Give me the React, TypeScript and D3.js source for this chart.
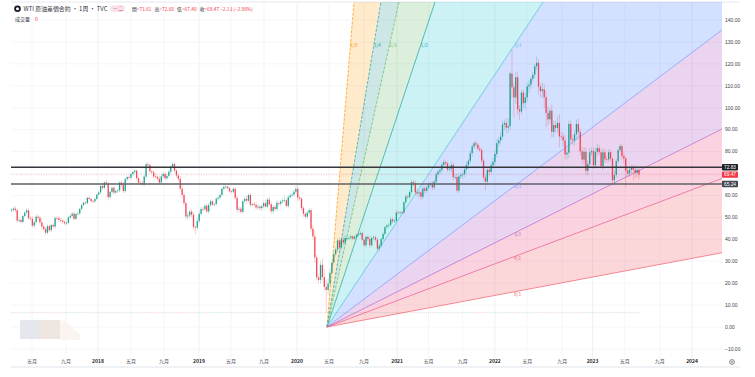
import React from "react";
import * as d3 from "d3";

const closes = [
  53.4,54.0,53.3,48.5,48.8,47.9,50.6,52.2,53.2,49.6,49.3,46.2,47.8,50.3,49.8,47.7,45.8,44.7,43.0,46.0,44.2,46.5,45.8,49.7,49.6,48.8,48.5,47.9,47.3,47.5,49.9,50.7,51.7,49.3,51.5,51.8,53.9,55.6,56.7,56.5,58.9,58.4,57.4,57.3,58.4,60.4,
  61.4,64.3,63.4,65.9,65.4,59.2,61.6,63.5,61.3,62.0,62.3,65.9,64.9,62.0,67.4,68.4,68.1,69.7,70.7,71.3,67.9,65.8,65.7,65.1,68.6,74.2,73.8,71.0,70.5,68.7,68.5,67.6,65.9,68.7,69.8,67.8,68.9,70.8,73.2,74.3,71.3,69.1,67.6,63.1,60.2,56.5,50.4,50.9,52.6,51.2,45.6,45.3,
  48.3,51.6,53.8,53.7,55.3,52.7,55.6,57.3,55.8,56.1,58.5,59.0,60.2,63.1,63.9,64.0,63.3,61.9,61.7,63.0,58.9,53.5,53.9,52.5,57.4,58.4,57.6,60.2,55.7,56.1,55.7,54.5,54.9,54.2,55.1,56.5,54.9,58.1,56.0,52.8,54.7,53.8,56.6,56.2,57.2,57.7,57.8,55.2,59.2,60.0,60.4,61.7,
  63.0,59.0,58.5,54.2,51.6,50.3,52.1,53.3,44.8,41.3,31.7,22.6,21.5,28.3,22.8,18.3,16.9,19.8,24.7,29.4,33.2,35.3,39.5,36.3,39.8,38.5,40.6,40.6,40.6,41.3,40.3,41.2,42.0,42.3,42.9,39.8,37.3,41.1,40.2,37.3,40.6,40.9,39.8,35.7,37.1,40.1,42.4,45.5,46.3,46.6,49.1,48.2,
  48.4,52.2,52.0,52.3,52.2,56.9,59.5,59.2,61.5,66.1,65.6,61.4,60.9,61.4,59.4,63.2,62.1,63.6,64.9,65.4,63.6,66.3,69.6,70.9,71.6,74.0,75.2,74.6,71.8,72.1,73.9,68.3,68.4,62.2,68.7,69.3,69.7,71.9,73.9,75.8,79.3,82.3,83.8,83.2,81.3,80.7,75.9,68.2,66.3,71.7,70.7,73.8,
  75.3,78.9,83.8,85.1,86.8,92.3,93.1,90.9,91.6,115.6,109.3,104.7,113.9,99.3,98.3,106.9,102.1,104.7,109.8,110.5,113.2,115.1,118.9,120.5,109.6,107.6,108.4,104.8,97.6,94.7,98.6,89.0,92.1,90.8,93.1,86.9,86.8,85.1,78.7,79.5,92.6,85.6,85.1,87.9,92.6,89.0,80.1,76.3,79.9,71.2,74.3,79.6,
  80.3,73.8,79.9,81.6,79.7,73.4,79.7,76.5,76.4,79.7,76.7,66.9,69.3,75.6,80.7,82.5,77.9,76.8,71.3,70.0,71.7,72.7,71.7,70.3,71.6,69.47,
];

const upWick = [
  .8,.9,1.1,.7,1,.8,.6,.5,.9,.8,
  .9,1.2,.9,1,.9,.9,1.7,.9,.8,.7,
  .9,.6,1,.7,.8,1,1,.6,.9,1,
  .8,.7,.8,.7,.6,.6,.5,.9,.7,.6,
  .5,.5,.8,.5,.6,.4,.6,.5,1,.6,
  1.3,.8,.5,.6,.8,.8,.7,.4,.8,1.2,
  .6,.6,.7,.6,.9,.6,.5,.8,.8,1,
  1,1,.8,.7,.5,.9,1.2,.7,1.3,1.1,
  .8,.8,.6,.9,.6,1,.7,.8,.6,1.2,
  1.6,1.2,.8,1.6,1,1.2,1.2,1,1.4,1.3,
  1,.9,.9,1,1,.8,.7,.6,.8,.8,
  .7,.6,.9,.8,.5,.5,.6,.7,.9,1,
  1,1,.8,1.1,1.4,.8,1,.7,.9,1.5,
  1.3,.6,.8,1,1.2,.8,1.2,.9,1,.9,
  1.3,1,.8,1,2.1,.9,1,1,.6,.9,
  1.2,1.6,.9,.8,.9,.8,1,1,.9,1.5,
  2.5,1.3,1.5,2,3,3.5,3,2.5,2,1,
  1,1,1,.9,1,1.4,1.1,.8,.7,.9,
  .6,.7,.6,.5,.7,.6,.5,.6,.7,1.2,
  .8,.9,.8,1,.9,.8,.9,.6,.7,1,
  .9,1,.9,1.1,.8,.6,.8,.6,1,.9,
  1,1.1,1,1.3,1.9,.9,1.2,1,1.1,.8,
  1,.9,1.2,.8,1,.9,1,1.1,1.1,1,
  1,.9,1.1,1.1,1.3,1.5,1.2,.9,1.1,1.2,
  1.4,.9,1,1,1,1.2,1,1.4,.9,1.1,
  1.2,1.1,1.3,1.4,1.8,1.9,1.7,1.5,2.1,1.7,
  1.5,2,3.7,.8,11,2,2.5,2.5,1.7,1,
  1.4,2,1.5,2,1,1.2,1,3,1.8,1.5,
  3,2.5,3,3,1.5,3,2,2,3,4,
  2,2,2.5,2,1.5,1.5,2,1.5,2,2.5,
  1.5,2,2,2,1.5,2,1.5,1.5,2,2,
  1.5,1.5,1.8,1.5,1.5,1.4,1.4,1,1.8,1,
  1,1.2,1,1.5,1,1.2,1.5,1.2,1.4,1.5,
  2,1.07,
];

const downWick = [
  .7,.8,1,.9,.8,.7,.6,.5,.7,.8,
  .8,1,1.2,.9,1,.8,1.6,.9,1,.8,
  .8,.9,.6,1,.8,.9,.7,.8,.7,1,
  .8,.6,.8,.7,.6,.7,.8,.7,.6,.6,
  .7,.6,.8,.8,.7,.5,.5,.7,.9,.7,
  .9,1.5,.7,.8,1,.7,.9,.8,1.2,.9,
  1,.8,.9,.9,.7,.8,1.2,.9,1,.8,
  1,1.1,.8,.9,.8,1,.9,.8,1.2,.9,
  .9,.8,1,.8,1.1,.7,.9,1,1.2,.9,
  1.3,1.1,1.3,1.5,1.2,1.1,1.4,2.9,1.1,1,
  .9,.8,.9,.7,1,.8,.7,.7,.8,.7,
  .8,.7,.6,.9,.7,.6,.7,.6,.7,1.2,
  1.2,.9,.8,.9,1.3,.9,1,.7,.8,1,
  1.1,.9,1.3,.9,.8,.8,.7,1.2,1,.9,
  .8,.9,1,1.1,1,.8,1.2,.8,.7,.8,
  1,1.5,.8,1,1.3,.9,1,1,1.3,1.5,
  2.5,1.5,1.5,1.8,1.5,1.8,10.4,2,1.2,1,
  1,1,1.1,1.5,1,1.1,1,.9,.7,1,
  .7,.8,.7,.9,.6,.5,.7,.9,1.2,1.2,
  .7,1,1,.9,1.3,1,.9,.8,1.1,.9,
  .8,1,.8,.9,.9,1,.7,1,1,.9,
  1,1.2,1.2,1.3,1.4,1.9,1.8,1,1.3,1,
  1.1,1,.9,1.2,1,1.3,1,1.1,1.2,1,
  1.1,1,1.5,1.3,1.2,.9,1.2,1.1,1.5,1.3,
  1.4,1.8,1.2,1.6,1.1,1.2,.9,1,1.1,1.5,
  3.9,1.4,2,1.1,1.5,1.3,1.5,1.8,1.7,1.5,
  2.5,2.5,2.4,1.8,5,9,3,2.5,4,1.5,
  2,3,2,3,2,1.5,1.5,1.5,3.5,3,
  3.5,5,6.5,3,2,2.5,2.5,2.5,2,5,
  1.5,3,2.5,2.3,2.5,2,2,2.5,2,2.5,
  2,2,2.5,1.7,2.5,1.8,1.5,1.7,1.4,1.8,
  1.5,1,1.7,1.3,1.5,1.2,1.4,1.5,1.3,1.2,
  .9,1,1.5,2,7.7,1.5,1.6,1.6,4.7,2.5,
  2,2.07,
];

const priceTicks = [140,130,120,110,100,90,80,70,60,50,40,30,20,10,0,-10];
const hiddenPriceLabels = [70];
const timeTickLabels = ["五月","九月","2018","五月","九月","2019","五月","九月","2020","五月","九月","2021","五月","九月","2022","五月","九月","2023","五月","九月","2024"];
const timeTickWeeks = [10.8,28.7,45.6,63,80.4,98.9,115.8,133.2,150.6,167.5,186,203.4,220,238,255,272,290.5,306.5,323.5,342,359];
const strongTicks = ["2018","2019","2020","2021","2022","2023","2024"];

const fanRatios = [8,4,3,2,1,1/2,1/3,1/4,1/8];
const fanNames = ["1/8","1/4","1/3","1/2","1/1","2/1","3/1","4/1","8/1"];
const fanColors = ["#ff9800","#26a69a","#66bb6a","#26a69a","#4dc3dc","#7f9bff","#b56cc9","#ec5a8a","#f2606f"];
const bandColors = ["#ff9800","#00897b","#4caf50","#00bcd4","#2962ff","#9c27b0","#e91e63","#f23645"];
const fanOriginWeek = 166.4;
const fanOriginPrice = 0;
const fanBasePricePerWeek = 1.3;

const levelPrices = [72.83, 65.24];
const levelColors = ["#35363c", "#5f6068"];
const lastClose = 69.47;
const volumePrice = 6.5;

const UP = "#089981";
const DOWN = "#f23645";
const FONT = "'Noto Sans CJK TC','Liberation Sans',sans-serif";

const L = 11, R = 722, T = 2, B = 367;
const x = d3.scaleLinear().domain([0, 331]).range([11.5, 639]);
const y = d3.scaleLinear().domain([0, 140]).range([327, 20]);

const candles = closes.map((c, i) => {
  const o = i === 0 ? 53.0 : closes[i - 1];
  return { i, o, c, h: Math.max(o, c) + upWick[i], l: Math.min(o, c) - downWick[i] };
});

const farWeek = 1200;
const fanPoint = (ratio: number) => [x(farWeek), y(fanOriginPrice + ratio * fanBasePricePerWeek * (farWeek - fanOriginWeek))] as const;
const origin = [x(fanOriginWeek), y(fanOriginPrice)] as const;

export default function App() {
  const bandPath = d3.line();
  return (
    <svg width={755} height={377} viewBox="0 0 755 377" style={{ position: "absolute", left: 0, top: 0, background: "#fff" }} fontFamily={FONT}>
      <defs>
        <clipPath id="plot"><rect x={L} y={T} width={R - L} height={B - T} /></clipPath>
      </defs>
      <line x1={L} x2={740} y1={T} y2={T} stroke="#e6e8ee" strokeWidth={1} />
      <line x1={L} x2={740} y1={B} y2={B} stroke="#e0e3eb" strokeWidth={1} />

      {priceTicks.map((p) => (
        <line key={p} x1={L} x2={R} y1={y(p)} y2={y(p)} stroke="#f2f4f8" strokeWidth={0.8} />
      ))}
      {timeTickWeeks.map((w, i) => (
        <line key={i} x1={x(w)} x2={x(w)} y1={T} y2={B} stroke={strongTicks.includes(timeTickLabels[i]) ? "#eceef3" : "#f2f4f8"} strokeWidth={0.8} />
      ))}

      <g opacity={0.9}>
        <rect x={20} y={320} width={20} height={19} fill="#e3e5ea" />
        <rect x={40} y={320} width={20} height={19} fill="#efe4dd" />
        <path d="M60 320L66 322L80 334L80 340L60 340Z" fill="#fbf3ef" />
      </g>

      <g clipPath="url(#plot)">
        {bandColors.map((col, i) => (
          <path key={i} d={bandPath([origin as any, fanPoint(fanRatios[i]) as any, fanPoint(fanRatios[i + 1]) as any]) + "Z"} fill={col} fillOpacity={0.2} />
        ))}
        {fanRatios.map((r, i) => {
          const [fx, fy] = fanPoint(r);
          return <line key={i} x1={origin[0]} y1={origin[1]} x2={fx} y2={fy} stroke={fanColors[i]} strokeWidth={0.8} strokeOpacity={0.9} strokeDasharray={i < 3 ? "3 1.4" : undefined} />;
        })}

        {candles.map((d) => {
          const col = d.c >= d.o ? UP : DOWN;
          const top = y(Math.max(d.o, d.c));
          const h = Math.max(0.7, y(Math.min(d.o, d.c)) - top);
          return (
            <g key={d.i}>
              <rect x={x(d.i) - 0.4} width={0.8} y={y(d.h)} height={y(d.l) - y(d.h)} fill={col} opacity={0.3} />
              <rect x={x(d.i) - 0.65} width={1.3} y={top} height={h} fill={col} opacity={0.88} />
              <rect x={x(d.i) - 0.5} width={1} y={y(volumePrice) - 0.4} height={0.8} fill={col} opacity={0.3} />
            </g>
          );
        })}

        {levelPrices.map((p, i) => (
          <line key={p} x1={L} x2={R} y1={y(p)} y2={y(p)} stroke={levelColors[i]} strokeWidth={1.6} />
        ))}
        <line x1={L} x2={R} y1={y(lastClose)} y2={y(lastClose)} stroke={DOWN} strokeOpacity={0.45} strokeWidth={0.7} strokeDasharray="1 1.5" />
      </g>

      {fanNames.map((n, i) => {
        const r = fanRatios[i];
        const steep = r >= 1;
        const labelWeek = 267;
        const pxPerPx = (y(0) - y(r * fanBasePricePerWeek)) / (x(1) - x(0));
        const lx = steep ? origin[0] + (origin[1] - 45) / pxPerPx + 3.5 : x(labelWeek);
        const ly = steep ? 46.5 : y(r * fanBasePricePerWeek * (labelWeek - fanOriginWeek)) + 4.5;
        return <text key={n} x={lx} y={ly} fontSize={4.8} textAnchor="middle" fill={fanColors[i]}>{n}</text>;
      })}

      {priceTicks.filter((p) => !hiddenPriceLabels.includes(p)).map((p) => (
        <text key={p} x={725} y={y(p) + 1.8} fontSize={5} fill="#3a3d48" fontFamily="'Liberation Sans',sans-serif">
          {p < 0 ? "−" + d3.format(".2f")(-p) : d3.format(".2f")(p)}
        </text>
      ))}
      {timeTickWeeks.map((w, i) => {
        const strong = strongTicks.includes(timeTickLabels[i]);
        return (
          <text key={i} x={x(w)} y={363} fontSize={5} textAnchor="middle" fill={strong ? "#1c1f28" : "#4a4d58"} fontWeight={strong ? 700 : 400}>
            {timeTickLabels[i]}
          </text>
        );
      })}

      {levelPrices.map((p, i) => (
        <g key={p}>
          <rect x={722} y={y(p) - 3.2} width={16} height={6.4} rx={0.8} fill={i === 0 ? "#1f2026" : "#434651"} />
          <text x={730} y={y(p) + 1.7} fontSize={4.8} textAnchor="middle" fill="#fff" fontFamily="'Liberation Sans',sans-serif">{d3.format(".2f")(p)}</text>
        </g>
      ))}
      <rect x={722} y={y(lastClose) - 3.2} width={16} height={6.4} rx={0.8} fill={DOWN} />
      <text x={730} y={y(lastClose) + 1.7} fontSize={4.8} textAnchor="middle" fill="#fff" fontFamily="'Liberation Sans',sans-serif">{d3.format(".2f")(lastClose)}</text>

      <circle cx={17.5} cy={8.7} r={2.4} fill="#fff" stroke="#131722" strokeWidth={1.8} />
      <text x={23.5} y={11} fontSize={5.9} fill="#30333d">WTI 原油差價合約 · 1周 · TVC</text>
      <rect x={110} y={5.2} width={15} height={6.8} rx={3.4} fill="#fbe2ea" />
      <text x={113} y={10.4} fontSize={4.5} fill="#888">一</text>
      <text x={118.5} y={10.4} fontSize={4.5} fill="#e0355a">二</text>
      <text x={132} y={11} fontSize={4.8} fill="#f23645">
        <tspan fill="#30333d">開</tspan>=71.61 <tspan fill="#30333d" dx={2}>高</tspan>=72.68 <tspan fill="#30333d" dx={2}>低</tspan>=67.40 <tspan fill="#30333d" dx={2}>收</tspan>=69.47 −2.13 (−2.98%)
      </text>
      <text x={15} y={20.5} fontSize={5} fill="#30333d">成交量</text>
      <text x={35} y={20.5} fontSize={5} fill="#f23645">0</text>

      <circle cx={732} cy={362} r={2.4} fill="none" stroke="#555" strokeWidth={0.7} />
      <circle cx={732} cy={362} r={0.9} fill="none" stroke="#555" strokeWidth={0.5} />
    </svg>
  );
}
